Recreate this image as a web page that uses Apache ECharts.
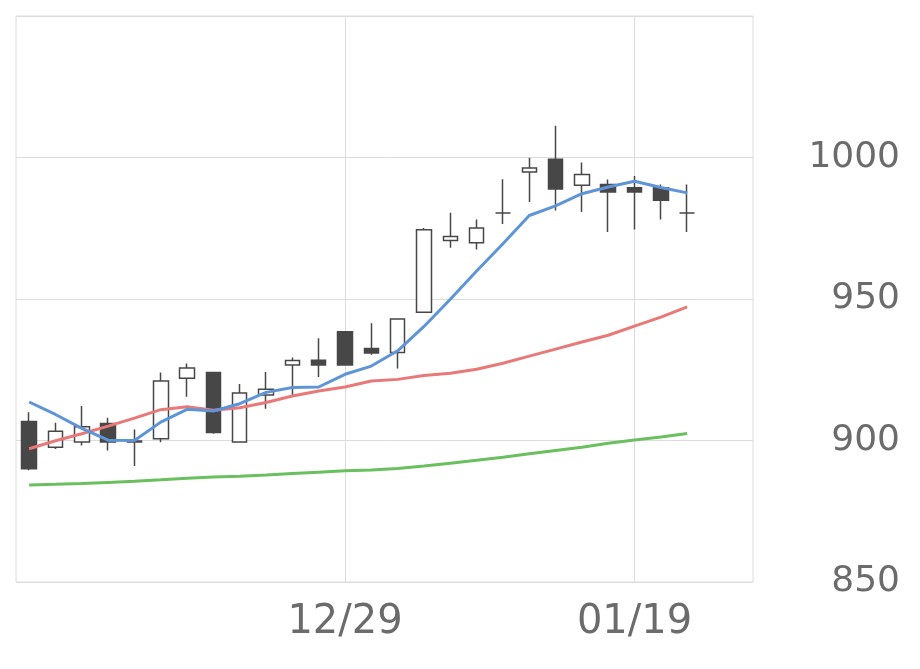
<!DOCTYPE html>
<html>
<head>
<meta charset="utf-8">
<script src="https://cdn.jsdelivr.net/npm/echarts@6/dist/echarts.min.js"></script>
<style>html,body{margin:0;padding:0;background:#fff}#c{width:920px;height:669px}</style>
</head>
<body>
<div id="c"></div>
<script>
const categories = ['12/11','12/14','12/15','12/16','12/17','12/18','12/21','12/22','12/23','12/24','12/25','12/28','12/29','12/30','01/04','01/05','01/06','01/07','01/08','01/12','01/13','01/14','01/15','01/19','01/20','01/21','01/22','01/25'];
const labelIdx = [12, 23];
// [open, close, low, high]
const ohlc = [
  [906.7, 890.0, 889.5, 910.0],
  [897.6, 903.3, 897.0, 906.3],
  [899.5, 904.9, 898.2, 912.2],
  [906.0, 899.5, 896.5, 908.0],
  [899.8, 899.5, 891.0, 903.9],
  [900.6, 921.0, 899.4, 924.0],
  [922.0, 925.6, 915.5, 927.2],
  [924.0, 902.8, 902.4, 924.0],
  [899.5, 916.8, 899.5, 920.0],
  [916.1, 918.1, 911.2, 924.2],
  [926.7, 928.3, 916.0, 929.3],
  [928.4, 926.7, 922.4, 936.1],
  [938.4, 926.7, 926.7, 938.4],
  [932.5, 930.9, 930.3, 941.4],
  [931.1, 942.9, 925.4, 942.9],
  [945.3, 974.5, 945.3, 975.1],
  [970.7, 972.1, 968.1, 980.5],
  [969.9, 975.1, 967.5, 978.1],
  [980.4, 980.4, 976.5, 992.3],
  [994.9, 996.3, 984.3, 999.9],
  [999.4, 988.9, 981.3, 1011.2],
  [990.2, 994.0, 980.7, 998.2],
  [990.5, 987.8, 973.7, 992.2],
  [989.3, 987.8, 974.6, 993.5],
  [989.3, 984.9, 978.1, 990.5],
  [980.4, 980.4, 973.7, 990.5]
];
const maShort = [913.6, 909.2, 904.3, 900.1, 900.0, 906.5, 911.0, 910.4, 913.0, 917.0, 918.7, 918.9, 923.4, 926.3, 931.7, 940.3, 949.9, 959.9, 969.5, 979.5, 982.9, 987.2, 989.6, 991.6, 989.4, 987.5];
const maMid = [897.1, 899.9, 902.4, 905.1, 907.9, 910.9, 911.9, 910.7, 911.6, 913.4, 915.7, 917.5, 918.9, 921.0, 921.6, 923.0, 923.8, 925.2, 927.3, 929.8, 932.3, 934.8, 937.2, 940.4, 943.6, 947.2];
const maLong = [884.3, 884.5, 884.8, 885.2, 885.6, 886.1, 886.7, 887.1, 887.4, 887.8, 888.3, 888.8, 889.3, 889.6, 890.1, 891.0, 892.0, 893.0, 894.1, 895.3, 896.5, 897.6, 899.0, 900.2, 901.2, 902.5];
const yTicks = [850, 900, 950, 1000];

const chart = echarts.init(document.getElementById('c'), null, {renderer: 'canvas'});
const font = 'DejaVu Sans';
chart.setOption({
  animation: false,
  grid: {left: 16, right: 167, top: 16, bottom: 87, show: true, borderColor: '#dcdcdc', borderWidth: 1},
  xAxis: {
    type: 'category', data: categories, boundaryGap: true,
    axisLine: {show: false}, axisTick: {show: false},
    axisLabel: {interval: (i) => labelIdx.includes(i), color: '#6b6b6b', fontSize: 40, fontFamily: font, margin: 21},
    splitLine: {show: false}
  },
  yAxis: {
    type: 'value', position: 'right', min: 850, max: 1050, interval: 50,
    axisLine: {show: false}, axisTick: {show: false},
    axisLabel: {color: '#6b6b6b', fontSize: 36, fontFamily: font, align: 'right', margin: 147,
      formatter: (v) => yTicks.includes(v) ? String(v) : ''},
    splitLine: {lineStyle: {color: '#dcdcdc', width: 1}}
  },
  series: [
    {type: 'line', data: [], z: 0, silent: true,
     markLine: {silent: true, z: 0, symbol: ['none', 'none'], label: {show: false},
       lineStyle: {color: '#dcdcdc', width: 1, type: 'solid'},
       data: labelIdx.map(i => ({xAxis: categories[i]}))}},
    {type: 'candlestick', data: ohlc, barWidth: 15, z: 5,
     itemStyle: {color: '#ffffff', color0: '#474747', borderColor: '#474747', borderColor0: '#474747', borderWidth: 1.5}},
    {type: 'line', data: maLong, symbol: 'none', z: 6, lineStyle: {color: '#6abf5e', width: 3}},
    {type: 'line', data: maMid, symbol: 'none', z: 6, lineStyle: {color: '#e97878', width: 3}},
    {type: 'line', data: maShort, symbol: 'none', z: 6, lineStyle: {color: '#5e94d8', width: 3}}
  ]
});
</script>
</body>
</html>
